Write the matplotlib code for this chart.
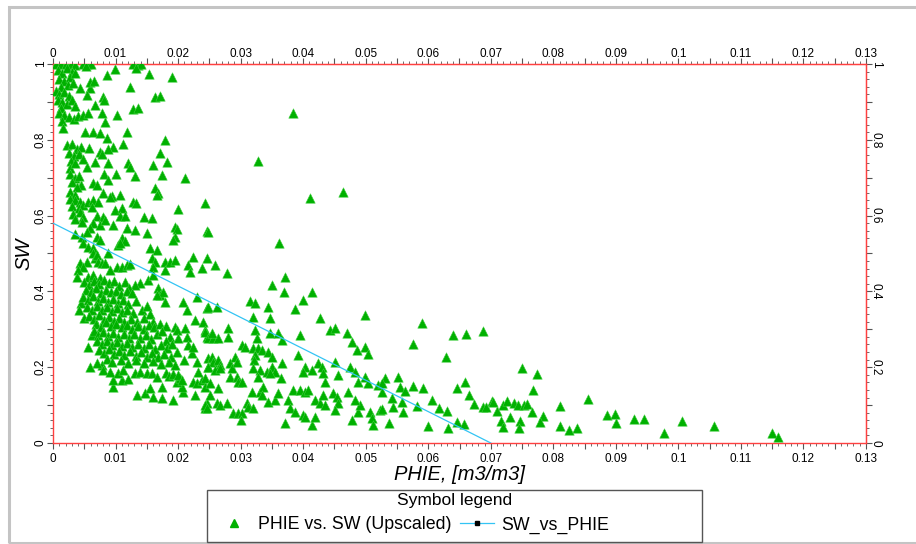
import matplotlib
matplotlib.use("Agg")
import matplotlib.pyplot as plt
from matplotlib.ticker import MultipleLocator, FuncFormatter
from matplotlib.patches import Rectangle
from matplotlib.lines import Line2D

plt.rcParams['font.family'] = ['Liberation Sans', 'DejaVu Sans']

# ---------------- data (PHIE, SW) ----------------
pts_top = [
    (0.0005, 1.0), (0.0012, 1.0), (0.002, 1.0), (0.0028, 1.0), (0.0035, 0.998), (0.0048, 1.0),
    (0.0055, 1.0), (0.006, 1.0), (0.0128, 1.0), (0.0136, 0.998), (0.014, 1.0),
    (0.0008, 0.985), (0.0015, 0.975), (0.0022, 0.99), (0.003, 0.98), (0.001, 0.96), (0.0018, 0.955),
    (0.0027, 0.965), (0.0035, 0.975), (0.0024, 0.945), (0.0012, 0.94), (0.0032, 0.95),
    (0.0053, 0.995), (0.0099, 0.987), (0.0086, 0.971), (0.0133, 0.99), (0.0154, 0.974), (0.019, 0.965),
    (0.0123, 0.94), (0.0163, 0.913), (0.0171, 0.915), (0.0128, 0.881), (0.0136, 0.884), (0.0102, 0.865),
    (0.0384, 0.87), (0.0043, 0.937), (0.0059, 0.937), (0.0055, 0.918), (0.0059, 0.953), (0.0066, 0.955),
    (0.008, 0.913), (0.0081, 0.905), (0.0067, 0.892),
    (0.0005, 0.93), (0.001, 0.92), (0.0018, 0.925), (0.0025, 0.915), (0.0008, 0.905), (0.0015, 0.9),
    (0.0022, 0.895), (0.003, 0.905), (0.0035, 0.89), (0.0012, 0.885),
    (0.001, 0.87), (0.0018, 0.865), (0.0025, 0.86), (0.0033, 0.855), (0.004, 0.862), (0.0014, 0.85),
    (0.0048, 0.865), (0.0056, 0.87), (0.0078, 0.87), (0.0083, 0.847), (0.0016, 0.831), (0.0051, 0.82),
    (0.0064, 0.82), (0.0075, 0.818), (0.0086, 0.805), (0.0118, 0.82), (0.0179, 0.8), (0.0112, 0.79),
    (0.0096, 0.781), (0.0088, 0.776),
]

pts_upper = [
    (0.0022, 0.785), (0.003, 0.79), (0.0038, 0.775), (0.0045, 0.78), (0.0025, 0.765), (0.0033, 0.758),
    (0.0042, 0.762), (0.0028, 0.745), (0.0048, 0.75),
    (0.0058, 0.778), (0.0075, 0.768), (0.0079, 0.762), (0.0171, 0.765), (0.0328, 0.744), (0.012, 0.739),
    (0.0123, 0.728), (0.016, 0.733), (0.0182, 0.741), (0.0067, 0.741), (0.0055, 0.728), (0.0088, 0.739),
    (0.0027, 0.726), (0.0035, 0.739),
    (0.0131, 0.704), (0.0174, 0.707), (0.0211, 0.699), (0.0101, 0.71), (0.0082, 0.71), (0.0088, 0.694),
    (0.0027, 0.71), (0.0035, 0.7), (0.0042, 0.705), (0.003, 0.688), (0.0045, 0.68), (0.0038, 0.675),
    (0.0064, 0.686), (0.007, 0.681), (0.0163, 0.673), (0.0168, 0.66), (0.0027, 0.662), (0.0411, 0.646),
    (0.0035, 0.655), (0.008, 0.66), (0.0094, 0.652), (0.0107, 0.654),
    (0.0027, 0.645), (0.0035, 0.64), (0.0043, 0.635), (0.003, 0.625), (0.0041, 0.62), (0.0048, 0.628),
    (0.0056, 0.635), (0.0064, 0.64), (0.0072, 0.635), (0.0062, 0.622),
    (0.0091, 0.649), (0.0128, 0.636), (0.0133, 0.633), (0.0166, 0.654), (0.0243, 0.633), (0.020, 0.617),
    (0.0099, 0.615), (0.011, 0.62), (0.0107, 0.6), (0.0115, 0.6),
    (0.0032, 0.605), (0.0043, 0.61), (0.0048, 0.595), (0.0035, 0.59), (0.0046, 0.582),
    (0.007, 0.6), (0.008, 0.596), (0.0064, 0.58), (0.0075, 0.575), (0.0083, 0.588),
    (0.0146, 0.596), (0.0158, 0.594), (0.0096, 0.575), (0.0195, 0.57), (0.0198, 0.565), (0.0246, 0.559),
    (0.0118, 0.567), (0.0131, 0.562), (0.015, 0.554),
    (0.0035, 0.551), (0.0046, 0.543), (0.0059, 0.567), (0.0054, 0.557), (0.007, 0.543), (0.0075, 0.536),
    (0.0195, 0.543), (0.0192, 0.536), (0.011, 0.54), (0.0115, 0.533),
    (0.0048, 0.528), (0.0056, 0.517), (0.0064, 0.515), (0.0104, 0.522), (0.0107, 0.528), (0.0155, 0.515),
    (0.0166, 0.509),
]

pts_mid = [
    (0.0064, 0.501), (0.0067, 0.488), (0.007, 0.496), (0.0088, 0.501), (0.0224, 0.491), (0.0246, 0.488),
    (0.0158, 0.488), (0.0163, 0.478), (0.016, 0.464), (0.0179, 0.478), (0.0187, 0.478), (0.0195, 0.483),
    (0.0072, 0.478), (0.0078, 0.475), (0.0083, 0.475), (0.0043, 0.475), (0.0054, 0.478), (0.0048, 0.464),
    (0.004, 0.456),
    (0.0102, 0.464), (0.011, 0.464), (0.0118, 0.47), (0.0123, 0.472), (0.0091, 0.456), (0.0216, 0.47),
    (0.0219, 0.451), (0.0238, 0.462), (0.0179, 0.456),
    (0.0038, 0.438), (0.0056, 0.438), (0.0064, 0.443), (0.0075, 0.435), (0.0139, 0.422), (0.0152, 0.43),
    (0.0131, 0.417), (0.016, 0.443),
    (0.0168, 0.409), (0.0171, 0.39), (0.0176, 0.398), (0.0166, 0.39), (0.0179, 0.372), (0.0208, 0.372),
    (0.0214, 0.351), (0.023, 0.385), (0.0246, 0.356),
    (0.0045, 0.37), (0.0042, 0.35), (0.005, 0.33),
]

pts_mid_cluster = [
    (0.0050, 0.425), (0.0058, 0.418), (0.0066, 0.428), (0.0074, 0.42), (0.0082, 0.43), (0.009, 0.422),
    (0.0098, 0.428), (0.0106, 0.415), (0.0115, 0.425), (0.0122, 0.41),
    (0.0052, 0.405), (0.006, 0.398), (0.0068, 0.408), (0.0076, 0.395), (0.0084, 0.405), (0.0092, 0.398),
    (0.01, 0.402), (0.0108, 0.392), (0.0118, 0.4), (0.0127, 0.395),
    (0.0048, 0.385), (0.0056, 0.378), (0.0064, 0.388), (0.0072, 0.375), (0.008, 0.382), (0.0088, 0.372),
    (0.0096, 0.38), (0.0104, 0.37), (0.0112, 0.378), (0.012, 0.368), (0.0132, 0.375),
    (0.0055, 0.36), (0.0063, 0.352), (0.0071, 0.362), (0.0079, 0.35), (0.0087, 0.358), (0.0095, 0.348),
    (0.0103, 0.355), (0.0111, 0.345), (0.0119, 0.352), (0.0128, 0.342), (0.0142, 0.35), (0.015, 0.362),
    (0.0058, 0.335), (0.0066, 0.328), (0.0074, 0.338), (0.0082, 0.325), (0.009, 0.332), (0.0098, 0.322),
    (0.0106, 0.33), (0.0114, 0.32), (0.0124, 0.328), (0.0135, 0.318), (0.0145, 0.33), (0.0155, 0.34),
    (0.016, 0.32),
]

pts_low = [
    (0.0056, 0.253), (0.0059, 0.2), (0.0062, 0.285), (0.0096, 0.148), (0.011, 0.166), (0.0096, 0.166),
    (0.012, 0.17), (0.0134, 0.127), (0.0147, 0.132), (0.0155, 0.145), (0.016, 0.121), (0.0174, 0.119),
    (0.0174, 0.148), (0.0192, 0.113), (0.0208, 0.135), (0.0206, 0.148), (0.0198, 0.161), (0.0203, 0.171),
    (0.0227, 0.127), (0.0246, 0.106), (0.0243, 0.092),
    (0.0078, 0.206), (0.008, 0.193), (0.0091, 0.187), (0.007, 0.211), (0.0104, 0.185), (0.0112, 0.193),
    (0.0131, 0.185), (0.0139, 0.187), (0.015, 0.185), (0.0158, 0.185), (0.0166, 0.174),
    (0.018, 0.185), (0.0186, 0.176), (0.0192, 0.182), (0.02, 0.18), (0.0206, 0.165),
    (0.0224, 0.161), (0.023, 0.158), (0.0238, 0.166), (0.0243, 0.171), (0.0232, 0.187), (0.0248, 0.2),
    (0.0195, 0.306), (0.0198, 0.298), (0.0187, 0.28), (0.02, 0.277), (0.0211, 0.303), (0.0214, 0.28),
    (0.0216, 0.259), (0.0222, 0.237), (0.0224, 0.253), (0.023, 0.214), (0.0227, 0.325), (0.024, 0.319),
    (0.0243, 0.298), (0.0246, 0.28),
]

pts_low_cluster = [
    (0.0068, 0.315), (0.0076, 0.305), (0.0085, 0.318), (0.0093, 0.308), (0.0101, 0.315), (0.011, 0.305),
    (0.0118, 0.312), (0.0127, 0.302), (0.0136, 0.31), (0.0145, 0.302), (0.0153, 0.312), (0.0162, 0.305),
    (0.0171, 0.315), (0.018, 0.31),
    (0.0065, 0.295), (0.0072, 0.285), (0.008, 0.292), (0.0088, 0.282), (0.0096, 0.29), (0.0104, 0.28),
    (0.0113, 0.288), (0.0121, 0.278), (0.013, 0.287), (0.0139, 0.276), (0.0148, 0.285), (0.0157, 0.275),
    (0.0166, 0.288), (0.0175, 0.295), (0.018, 0.27),
    (0.007, 0.268), (0.0078, 0.26), (0.0086, 0.27), (0.0094, 0.258), (0.0102, 0.266), (0.011, 0.255),
    (0.0119, 0.264), (0.0127, 0.252), (0.0136, 0.262), (0.0145, 0.25), (0.0154, 0.26), (0.0163, 0.248),
    (0.0172, 0.258), (0.0183, 0.25), (0.019, 0.262),
    (0.0074, 0.245), (0.0082, 0.238), (0.009, 0.248), (0.0098, 0.236), (0.0106, 0.244), (0.0114, 0.232),
    (0.0123, 0.242), (0.0132, 0.23), (0.0141, 0.24), (0.015, 0.228), (0.0159, 0.238), (0.0168, 0.226),
    (0.0178, 0.236), (0.0188, 0.228), (0.0198, 0.24),
    (0.0086, 0.222), (0.0095, 0.215), (0.0108, 0.22), (0.012, 0.212), (0.0133, 0.218), (0.0146, 0.21),
    (0.016, 0.216), (0.0172, 0.208), (0.0185, 0.215), (0.0195, 0.205), (0.021, 0.22),
]

pts_centre = [
    (0.0243, 0.293), (0.0248, 0.277), (0.0256, 0.277), (0.0264, 0.277), (0.0254, 0.29), (0.028, 0.303),
    (0.028, 0.28), (0.032, 0.332), (0.0347, 0.33), (0.0323, 0.298), (0.0326, 0.277), (0.0347, 0.29),
    (0.036, 0.29), (0.0366, 0.272), (0.0395, 0.285), (0.0427, 0.33), (0.0443, 0.298), (0.0451, 0.303),
    (0.047, 0.29), (0.0478, 0.266), (0.0486, 0.245), (0.0499, 0.253), (0.0504, 0.235), (0.0499, 0.338),
    (0.0248, 0.224), (0.0254, 0.227), (0.0256, 0.214), (0.0264, 0.219), (0.0267, 0.206), (0.0248, 0.2),
    (0.0259, 0.193), (0.0267, 0.198),
    (0.0283, 0.211), (0.0286, 0.198), (0.0291, 0.227), (0.0294, 0.214),
    (0.0302, 0.259), (0.0307, 0.253), (0.032, 0.251), (0.0328, 0.251), (0.0334, 0.245), (0.0344, 0.24),
    (0.035, 0.227), (0.0323, 0.232), (0.0321, 0.219), (0.032, 0.198),
    (0.0331, 0.193), (0.0342, 0.187), (0.035, 0.2), (0.0355, 0.187), (0.0328, 0.174), (0.0347, 0.185),
    (0.0366, 0.211), (0.0365, 0.171), (0.0392, 0.232), (0.0403, 0.2), (0.04, 0.187), (0.0414, 0.193),
    (0.0424, 0.211), (0.043, 0.2), (0.0432, 0.185), (0.0435, 0.161), (0.0451, 0.214), (0.0456, 0.179),
    (0.0475, 0.2), (0.0483, 0.187), (0.0488, 0.161), (0.0499, 0.174), (0.0504, 0.158), (0.052, 0.153),
    (0.0526, 0.135),
    (0.0243, 0.148), (0.0251, 0.158), (0.0264, 0.145), (0.0251, 0.127), (0.0243, 0.1), (0.0246, 0.092),
    (0.0283, 0.174), (0.0294, 0.174), (0.0296, 0.161), (0.0302, 0.161),
    (0.0318, 0.135), (0.0331, 0.135), (0.0336, 0.148), (0.0334, 0.127),
    (0.0344, 0.108), (0.0355, 0.113), (0.036, 0.132), (0.0376, 0.113), (0.0384, 0.14), (0.0395, 0.14),
    (0.0403, 0.135), (0.0408, 0.14),
    (0.0262, 0.106), (0.0267, 0.1), (0.0278, 0.106), (0.0288, 0.079), (0.0296, 0.079), (0.0302, 0.079),
    (0.0301, 0.061), (0.031, 0.106), (0.0312, 0.095), (0.032, 0.092),
    (0.0371, 0.053), (0.0379, 0.092), (0.0387, 0.082), (0.04, 0.074), (0.0403, 0.069), (0.0414, 0.047),
    (0.0419, 0.069),
    (0.0419, 0.113), (0.0427, 0.106), (0.0435, 0.1), (0.0432, 0.127), (0.0448, 0.132), (0.0454, 0.121),
    (0.0456, 0.106), (0.0451, 0.087),
    (0.0478, 0.061), (0.0488, 0.082), (0.0491, 0.1), (0.0507, 0.082), (0.051, 0.066), (0.0512, 0.047),
    (0.0523, 0.087), (0.0472, 0.135), (0.0483, 0.113),
]

pts_sparse = [
    (0.0464, 0.662), (0.0248, 0.557), (0.0361, 0.528), (0.0259, 0.47), (0.0278, 0.449), (0.0371, 0.438),
    (0.035, 0.417), (0.0369, 0.398), (0.0414, 0.398), (0.04, 0.377), (0.0387, 0.354), (0.0315, 0.375),
    (0.0323, 0.369), (0.0344, 0.359), (0.0248, 0.359), (0.0262, 0.359),
]

pts_tail = [
    (0.059, 0.317), (0.0576, 0.261), (0.064, 0.285), (0.066, 0.288), (0.0688, 0.296), (0.0628, 0.227),
    (0.075, 0.198), (0.0774, 0.182), (0.0768, 0.14),
    (0.0531, 0.171), (0.0526, 0.158), (0.0552, 0.174), (0.0555, 0.148), (0.0563, 0.137), (0.0576, 0.15),
    (0.0592, 0.145),
    (0.0542, 0.119), (0.0558, 0.108), (0.0544, 0.095), (0.056, 0.082), (0.0526, 0.09), (0.0582, 0.098),
    (0.0606, 0.113), (0.0617, 0.092), (0.063, 0.084), (0.0537, 0.053), (0.06, 0.045), (0.0632, 0.04),
    (0.0646, 0.145), (0.0659, 0.161), (0.0665, 0.127), (0.0673, 0.103), (0.0646, 0.055), (0.0657, 0.05),
    (0.0688, 0.095), (0.0692, 0.095), (0.0702, 0.111), (0.0704, 0.108), (0.071, 0.084),
    (0.072, 0.1), (0.0726, 0.111), (0.0737, 0.106), (0.0744, 0.1), (0.0753, 0.1), (0.0758, 0.103),
    (0.0766, 0.082), (0.0783, 0.071),
    (0.0716, 0.058), (0.072, 0.042), (0.0731, 0.069), (0.0747, 0.058), (0.0745, 0.04), (0.0779, 0.055),
    (0.0811, 0.098), (0.0811, 0.045), (0.0825, 0.034), (0.0838, 0.04), (0.0855, 0.116), (0.0886, 0.074),
    (0.0899, 0.077), (0.09, 0.053), (0.0929, 0.063), (0.0945, 0.063), (0.0977, 0.026), (0.1006, 0.058),
    (0.1057, 0.045), (0.115, 0.026), (0.1159, 0.016),
]

# regression line SW_vs_PHIE
line_phie = [0.0, 0.07]
line_sw = [0.58, 0.0]

x_label = "PHIE, [m3/m3]"
y_label = "SW"
legend_title = "Symbol legend"
series_names = ["PHIE vs. SW (Upscaled)", "SW_vs_PHIE"]

all_pts = (pts_top + pts_upper + pts_mid + pts_mid_cluster + pts_low + pts_low_cluster
           + pts_centre + pts_sparse + pts_tail)
phie = [p[0] for p in all_pts]
sw = [p[1] for p in all_pts]

# ---------------- figure ----------------
W, H = 916, 544
fig = plt.figure(figsize=(W / 100, H / 100), dpi=100)

# outer light-grey frame
fig.patches.append(Rectangle((9 / W, 1.5 / H), 1.2, 536 / H, transform=fig.transFigure,
                             fill=False, edgecolor='#c4c4c4', linewidth=2.2))

ax = fig.add_axes([53 / W, (H - 443) / H, 813 / W, 379 / H])
GREEN = '#00b000'
RED = '#ff4040'
LINE = '#33c4f4'

ax.scatter(phie, sw, marker='^', s=46, color=GREEN, edgecolors='#3fcf3f', linewidths=0.4, zorder=3)
ax.plot(line_phie, line_sw, color=LINE, lw=0.9, zorder=4)

ax.set_xlim(0, 0.13)
ax.set_ylim(0, 1)

for sp in ax.spines.values():
    sp.set_color(RED)
    sp.set_linewidth(1.0)


def xfmt(v, pos):
    k = round(v / 0.01)
    if abs(k * 0.01 - v) > 1e-9:
        return ''
    return f"{round(v, 2):g}"


def yfmt(v, pos):
    k = round(v / 0.2)
    if abs(k * 0.2 - v) > 1e-9:
        return ''
    return f"{round(v, 1):g}"


def style_x(a, pad):
    a.xaxis.set_major_locator(MultipleLocator(0.005))
    a.xaxis.set_minor_locator(MultipleLocator(0.001))
    a.xaxis.set_major_formatter(FuncFormatter(xfmt))
    a.tick_params(axis='x', which='major', length=4, width=0.8, color='#555555',
                  labelsize=8.5, pad=pad, direction='out')
    a.tick_params(axis='x', which='minor', length=2, width=0.6, color='#555555', direction='out')


def style_y(a, rot, pad):
    a.yaxis.set_major_locator(MultipleLocator(0.1))
    a.yaxis.set_minor_locator(MultipleLocator(0.02))
    a.yaxis.set_major_formatter(FuncFormatter(yfmt))
    a.tick_params(axis='y', which='major', length=4, width=0.8, color='#555555',
                  labelsize=8.5, pad=pad, direction='out', labelrotation=rot)
    a.tick_params(axis='y', which='minor', length=2, width=0.6, color='#555555', direction='out')


style_x(ax, 3)
style_y(ax, 90, 0.5)
for lab in ax.get_yticklabels():
    lab.set_va('center')

secx = ax.secondary_xaxis('top')
style_x(secx, -1.2)
secx.spines['top'].set_color(RED)
secy = ax.secondary_yaxis('right')
style_y(secy, 270, -1.2)
secy.spines['right'].set_color(RED)
for lab in secy.get_yticklabels():
    lab.set_va('center')

ax.set_xlabel(x_label, fontsize=14.5, style='italic', labelpad=0.5)
ax.set_ylabel(y_label, fontsize=14.5, style='italic')
ax.yaxis.set_label_coords(-0.024, 0.5)

# legend box
fig.patches.append(Rectangle((207 / W, 2 / H), 495 / W, 52 / H, transform=fig.transFigure,
                             fill=False, edgecolor='#555555', linewidth=1.0))
fig.text(454.5 / W, (H - 500) / H, legend_title, ha='center', va='center', fontsize=12.5)

h1 = Line2D([], [], marker='^', linestyle='none', color=GREEN, markersize=6)
h2 = Line2D([], [], marker='s', linestyle='-', color=LINE, lw=0.9,
            markerfacecolor='black', markeredgecolor='black', markersize=2.5)
fig.legend([h1, h2], series_names, loc='center left', bbox_to_anchor=(217 / W, (H - 525) / H),
           ncol=2, frameon=False, fontsize=12.8, handlelength=1.9, handletextpad=0.4,
           columnspacing=0.5, borderpad=0, borderaxespad=0)

fig.savefig('out.png', dpi=100)
